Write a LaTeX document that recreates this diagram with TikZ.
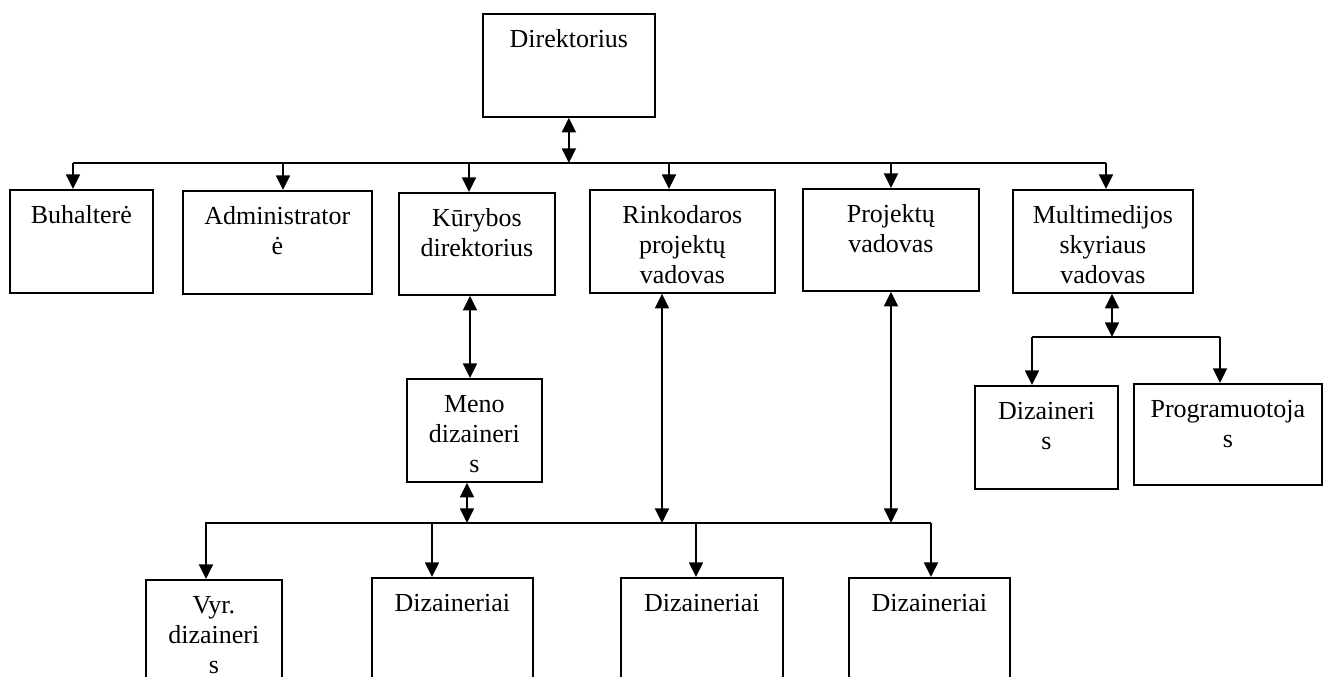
\documentclass[tikz,border=0pt]{standalone}
\usepackage{fontspec}
\setmainfont{Liberation Serif}
\usetikzlibrary{arrows.meta}

\tikzset{
  unit/.style 2 args={draw,line width=1.3pt,inner sep=0pt,anchor=north west,align=center,
    font={\fontsize{19.5pt}{22.5pt}\selectfont},text height=25.5pt,text width=#1,text depth=#2},
}

\begin{document}
\begin{tikzpicture}[x=0.75pt,y=-0.75pt,>={Triangle[length=11pt,width=10.5pt]},line width=1.3pt]
\useasboundingbox (0,0) rectangle (1323,677);
\clip (0,0) rectangle (1323,677);

\node[unit={129pt}{51.75pt}] (dir) at (482,13) {Direktorius};

\node[unit={107.25pt}{51.75pt}] (buh) at (9,189) {Buhalterė};
\node[unit={141.75pt}{51.75pt}] (adm) at (182,190) {Administrator\\ė};
\node[unit={117pt}{51pt}] (kur) at (398,192) {Kūrybos\\direktorius};
\node[unit={138.75pt}{51.75pt}] (rink) at (589,189) {Rinkodaros\\projektų\\vadovas};
\node[unit={132pt}{51pt}] (proj) at (802,188) {Projektų\\vadovas};
\node[unit={135pt}{51.75pt}] (mult) at (1012,189) {Multimedijos\\skyriaus\\vadovas};

\node[unit={101.25pt}{51.75pt}] (meno) at (406,378) {Meno\\dizaineri\\s};

\node[unit={102pt}{51.75pt}] (vyr) at (145,579) {Vyr.\\dizaineri\\s};
\node[unit={120.75pt}{51.75pt}] (diz1) at (371,577) {Dizaineriai};
\node[unit={121.5pt}{51.75pt}] (diz2) at (620,577) {Dizaineriai};
\node[unit={120.75pt}{51.75pt}] (diz3) at (848,577) {Dizaineriai};

\node[unit={107.25pt}{51.75pt}] (dizm) at (974,385) {Dizaineri\\s};
\node[unit={141pt}{50.25pt}] (prog) at (1133,383) {Programuotoja\\s};

% top level
\coordinate (b1l) at (73,163);
\coordinate (b1r) at (1106,163);
\draw (b1l) -- (b1r);
\draw[<->] (dir.south) -- (dir.south |- b1l);
\foreach \x/\n in {73/buh,283/adm,469/kur,669/rink,891/proj,1106/mult} {
  \coordinate (t) at (\x,163);
  \draw[->] (t) -- (t |- \n.north);
}

% designers
\coordinate (t) at (470,0);
\draw[<->] (t |- kur.south) -- (t |- meno.north);
\coordinate (b2l) at (205,523);
\coordinate (b2r) at (931,523);
\draw (b2l) -- (b2r);
\foreach \x/\n in {467/meno,662/rink,891/proj} {
  \coordinate (t) at (\x,523);
  \draw[<->] (t |- \n.south) -- (t);
}
\foreach \x/\n in {206/vyr,432/diz1,696/diz2,931/diz3} {
  \coordinate (t) at (\x,523);
  \draw[->] (t) -- (t |- \n.north);
}

% multimedia
\coordinate (b3l) at (1032,337);
\coordinate (b3r) at (1220,337);
\draw (b3l) -- (b3r);
\coordinate (t) at (1112,337);
\draw[<->] (t |- mult.south) -- (t);
\foreach \x/\n in {1032/dizm,1220/prog} {
  \coordinate (t) at (\x,337);
  \draw[->] (t) -- (t |- \n.north);
}
\end{tikzpicture}
\end{document}
